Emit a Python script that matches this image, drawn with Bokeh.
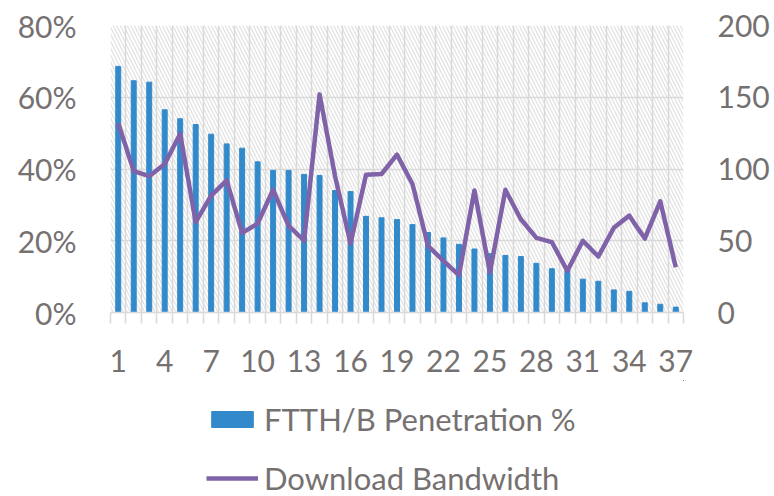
from bokeh.plotting import figure
from bokeh.layouts import column
from bokeh.models import (Range1d, LinearAxis, FixedTicker, PrintfTickFormatter,
                          Legend, LegendItem, BoxAnnotation, ColumnDataSource)
from bokeh.embed import file_html
from bokeh.resources import INLINE

# ---- data ----
countries = list(range(1, 38))
penetration = [68.6, 64.6, 64.2, 56.5, 54.0, 52.4, 49.7, 47.0, 45.8, 42.0, 39.6, 39.6,
               38.5, 38.2, 34.0, 33.7, 26.8, 26.4, 25.9, 24.5, 22.3, 20.8, 19.0, 17.7,
               16.4, 15.9, 15.6, 13.7, 12.2, 11.7, 9.3, 8.7, 6.3, 5.9, 2.7, 2.3, 1.5]
bandwidth = [132, 98.5, 95, 103.5, 124.5, 63, 81.5, 92, 55.5, 62, 85.5, 60.5,
             50, 152, 95, 48, 96, 96.5, 110, 89.5, 46.5, 36, 26, 85,
             28, 85.5, 65, 52, 49, 29, 50, 39, 59, 67.5, 51.5, 77.5, 31.5]
x_tick_labels = [1, 4, 7, 10, 13, 16, 19, 22, 25, 28, 31, 34, 37]
left_ticks = [0, 20, 40, 60, 80]
right_ticks = [0, 50, 100, 150, 200]
series_names = ["FTTH/B Penetration %", "Download Bandwidth"]

FONT = "Lato"
FS = "30px"
TXT = "#767171"
GRID = "#d9d9d9"
BAR = "#338ACB"
LINE = "#8062A8"

src = ColumnDataSource(dict(x=countries, pen=penetration, bw=bandwidth))

p = figure(width=774, height=380, output_backend="svg", toolbar_location=None,
           x_range=Range1d(0.5, 37.5), y_range=Range1d(0, 80),
           min_border_left=110, min_border_right=91, min_border_top=25,
           min_border_bottom=68)
p.outline_line_color = None
p.extra_y_ranges = {"bw": Range1d(0, 200)}

# hatched background of plot area
bg = BoxAnnotation(fill_alpha=0, line_alpha=0, hatch_pattern="\\",
                   hatch_color="#e3e3e3", hatch_scale=7, hatch_weight=1.3,
                   level="image")
p.add_layout(bg)

bars = p.vbar(x="x", top="pen", width=0.32, source=src, color=BAR)
line = p.line(x="x", y="bw", source=src, y_range_name="bw",
              line_color=LINE, line_width=4.5, line_join="round")

boundaries = [c - 0.5 for c in countries] + [countries[-1] + 0.5]

# x axis
xa = p.xaxis[0]
xa.ticker = FixedTicker(ticks=x_tick_labels, minor_ticks=boundaries)
xa.axis_line_color = GRID
xa.axis_line_width = 1.5
xa.major_tick_line_color = None
xa.major_tick_out = 0
xa.major_tick_in = 0
xa.minor_tick_line_color = GRID
xa.minor_tick_line_width = 1.5
xa.minor_tick_out = 11
xa.minor_tick_in = 0
xa.major_label_standoff = 26
xa.major_label_text_font = FONT
xa.major_label_text_font_size = FS
xa.major_label_text_color = TXT

# left axis
ya = p.yaxis[0]
ya.ticker = FixedTicker(ticks=left_ticks)
ya.formatter = PrintfTickFormatter(format="%d%%")
ya.axis_line_color = None
ya.major_tick_line_color = None
ya.major_tick_out = 0
ya.major_tick_in = 0
ya.minor_tick_line_color = None
ya.major_label_standoff = 34
ya.major_label_text_font = FONT
ya.major_label_text_font_size = FS
ya.major_label_text_color = TXT

# right axis
ra = LinearAxis(y_range_name="bw", ticker=FixedTicker(ticks=right_ticks))
ra.axis_line_color = None
ra.major_tick_line_color = None
ra.major_tick_out = 0
ra.major_tick_in = 0
ra.minor_tick_line_color = None
ra.major_label_standoff = 34
ra.major_label_text_font = FONT
ra.major_label_text_font_size = FS
ra.major_label_text_color = TXT
p.add_layout(ra, "right")

# grids
p.xgrid.ticker = FixedTicker(ticks=boundaries)
p.xgrid.grid_line_color = GRID
p.xgrid.grid_line_width = 1.5
p.ygrid.ticker = FixedTicker(ticks=left_ticks)
p.ygrid.grid_line_color = GRID
p.ygrid.grid_line_width = 1.5

# legend panel (separate figure below the chart; its ranges show no data)
lg = figure(width=774, height=116, output_backend="svg", toolbar_location=None,
            x_axis_type=None, y_axis_type=None,
            x_range=Range1d(-20, -10), y_range=Range1d(-20, -10),
            min_border_left=0, min_border_right=0, min_border_top=0,
            min_border_bottom=0)
lg.outline_line_color = None
lbar = lg.vbar(x="x", top="pen", width=0.32, source=src, color=BAR)
lline = lg.line(x="x", y="bw", source=src, line_color=LINE, line_width=4.5)

legend = Legend(items=[LegendItem(label=series_names[0], renderers=[lbar]),
                       LegendItem(label=series_names[1], renderers=[lline])],
                location=(96, -1), orientation="vertical",
                padding=0, margin=0, spacing=21,
                glyph_width=52, glyph_height=20, label_height=30,
                label_standoff=6,
                label_text_font=FONT, label_text_font_size="31px",
                label_text_color=TXT,
                border_line_alpha=0, background_fill_alpha=0)
lg.add_layout(legend, "center")

open("out.html", "w").write(file_html(column(p, lg, spacing=0), INLINE))
